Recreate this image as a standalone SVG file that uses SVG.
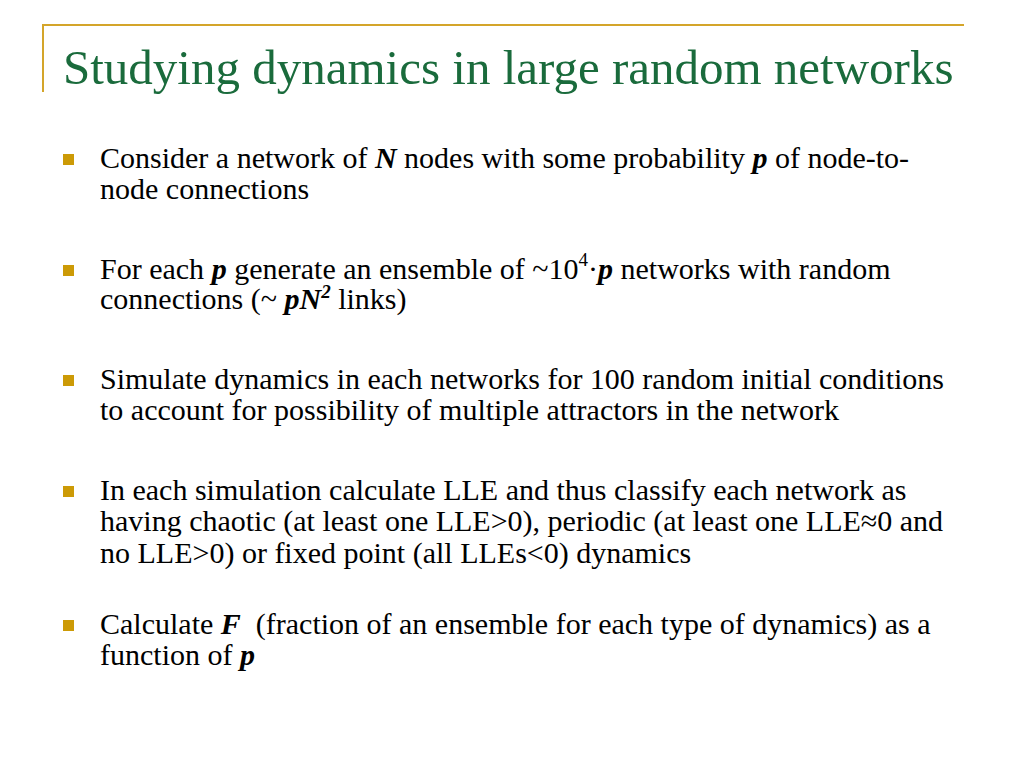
<svg xmlns="http://www.w3.org/2000/svg" width="1024" height="768" viewBox="0 0 1024 768">
<style>
.title{font-family:"Liberation Serif","Times New Roman",serif;font-size:49px;fill:#1A6B3C}
.body{font-family:"Liberation Serif","Times New Roman",serif;font-size:30px;fill:#000;white-space:pre}
.bi{font-weight:bold;font-style:italic}
.bullet{fill:#CC9A06}
.frame{stroke:#D4A52A;stroke-width:2;fill:none}
</style>
<rect width="1024" height="768" fill="#fff"/>
<path class="frame" d="M43,92 V25 H964"/>
<text class="title" x="63" y="84">Studying dynamics in large random networks</text>
<g id="bullet1">
<rect class="bullet" x="63" y="154" width="11" height="11"/>
<text class="body" x="100" y="168">Consider a network of <tspan class="bi">N</tspan> nodes with some probability <tspan class="bi">p</tspan> of node-to-</text>
<text class="body" x="100" y="199">node connections</text>
</g>
<g id="bullet2">
<rect class="bullet" x="63" y="265" width="11" height="11"/>
<text class="body" x="100" y="279">For each <tspan class="bi">p</tspan> generate an ensemble of ~10<tspan dy="-13" font-size="19">4</tspan><tspan dy="13">·</tspan><tspan class="bi">p</tspan> networks with random</text>
<text class="body" x="100" y="309">connections (~ <tspan class="bi">pN</tspan><tspan class="bi" dy="-11" font-size="19">2</tspan><tspan dy="11"> links)</tspan></text>
</g>
<g id="bullet3">
<rect class="bullet" x="63" y="375" width="11" height="11"/>
<text class="body" x="100" y="389">Simulate dynamics in each networks for 100 random initial conditions</text>
<text class="body" x="100" y="420">to account for possibility of multiple attractors in the network</text>
</g>
<g id="bullet4">
<rect class="bullet" x="63" y="486" width="11" height="11"/>
<text class="body" x="100" y="500">In each simulation calculate LLE and thus classify each network as</text>
<text class="body" x="100" y="531">having chaotic (at least one LLE&gt;0), periodic (at least one LLE≈0 and</text>
<text class="body" x="100" y="563">no LLE&gt;0) or fixed point (all LLEs&lt;0) dynamics</text>
</g>
<g id="bullet5">
<rect class="bullet" x="63" y="620" width="11" height="11"/>
<text class="body" x="100" y="634">Calculate <tspan class="bi">F</tspan>  (fraction of an ensemble for each type of dynamics) as a</text>
<text class="body" x="100" y="665">function of <tspan class="bi">p</tspan></text>
</g>
</svg>
